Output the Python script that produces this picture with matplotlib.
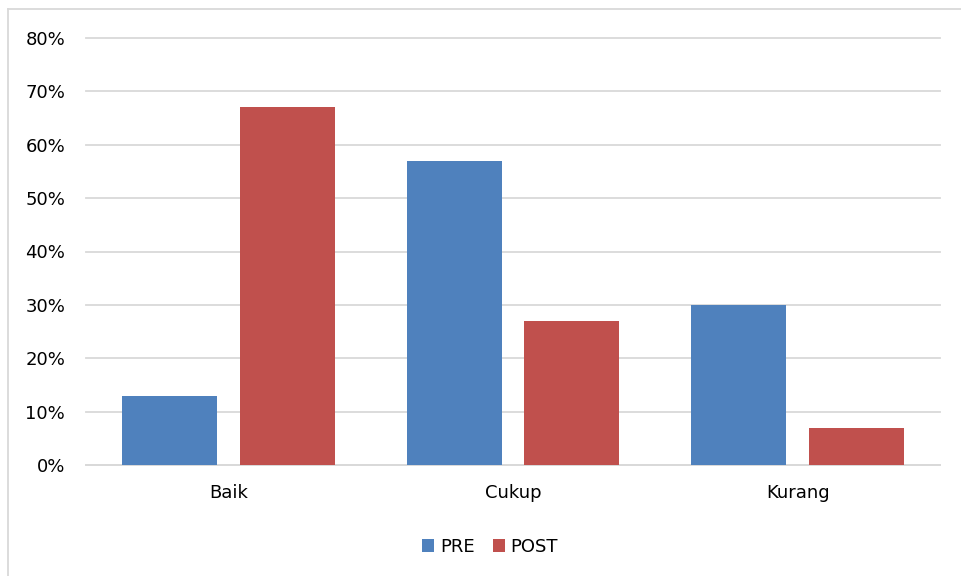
import numpy as np
import matplotlib.pyplot as plt
from matplotlib.lines import Line2D
from matplotlib.ticker import PercentFormatter

categories = ['Baik', 'Cukup', 'Kurang']
pre = [13, 57, 30]
post = [67, 27, 7]
yticks = [0, 10, 20, 30, 40, 50, 60, 70, 80]

blue = '#4F81BD'
red = '#C0504D'
grid_col = '#D9D9D9'

plt.rcParams['font.family'] = ['DejaVu Sans']

fig = plt.figure(figsize=(9.62, 5.76), dpi=100)
W, H = 962, 576
ax = fig.add_axes([86/W, 1-465/H, (940-86)/W, (465-38)/H])

x = np.arange(len(categories))
bw = 0.333
gap = 0.08
ax.bar(x - (bw+gap)/2, pre, bw, color=blue, label='PRE', zorder=3)
ax.bar(x + (bw+gap)/2, post, bw, color=red, label='POST', zorder=3)

ax.set_xlim(-0.5, 2.5)
ax.set_ylim(0, 80)
ax.set_yticks(yticks)
ax.yaxis.set_major_formatter(PercentFormatter(decimals=0))
ax.set_xticks(x)
ax.set_xticklabels(categories)
ax.grid(axis='y', color=grid_col, linewidth=1.3, zorder=0)
for gl in ax.get_ygridlines():
    gl.set_clip_on(False)
for s in ['top', 'right', 'left']:
    ax.spines[s].set_visible(False)
ax.spines['bottom'].set_color(grid_col)
ax.spines['bottom'].set_linewidth(1.3)
ax.tick_params(axis='both', length=0, labelsize=13, colors='black')
ax.tick_params(axis='y', pad=15)
ax.tick_params(axis='x', pad=14)

ax.legend(loc='center', bbox_to_anchor=(490/W, 1-547/H), bbox_transform=fig.transFigure,
          ncol=2, frameon=False, fontsize=13, handlelength=0.7, handleheight=0.7,
          handletextpad=0.3, columnspacing=1.0)

# outer chart border (left and top only visible)
fig.add_artist(Line2D([8/W, 8/W], [0, 1-9/H], color=grid_col, linewidth=1.3))
fig.add_artist(Line2D([8/W, 1], [1-9/H, 1-9/H], color=grid_col, linewidth=1.3))

fig.savefig('out.png', dpi=100)
